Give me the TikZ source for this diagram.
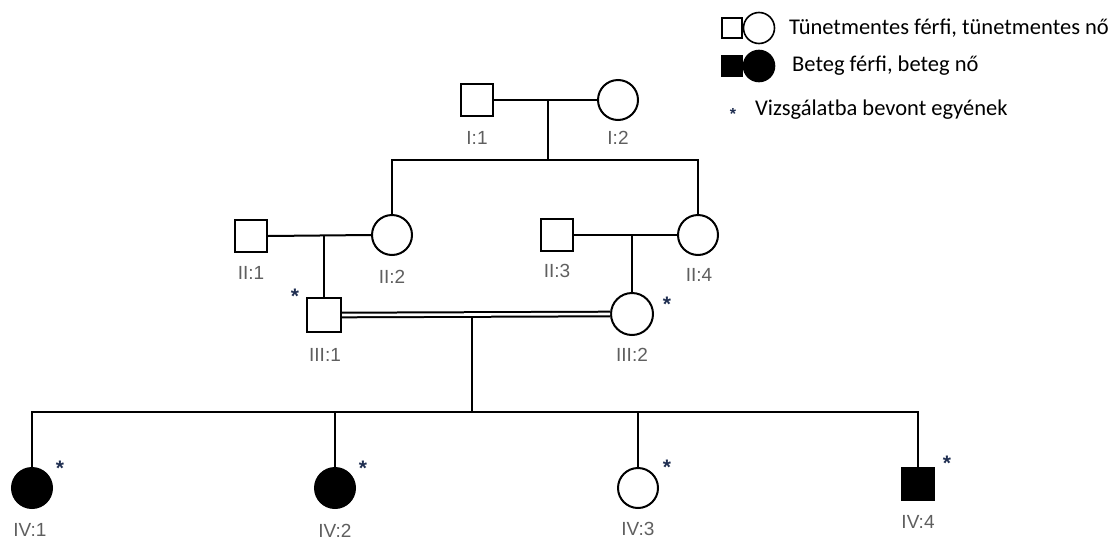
\documentclass[tikz,border=0pt]{standalone}
\usepackage{fontspec}
\setmainfont{Liberation Sans}
\newfontfamily\legendfont{Carlito}
\definecolor{astcol}{RGB}{30,45,80}
\definecolor{labcol}{RGB}{95,95,95}
\begin{document}
\begin{tikzpicture}[x=1pt,y=-1pt,
 lw/.style={line width=2pt},
 male/.style={draw, rectangle, minimum size=32pt, inner sep=0pt, line width=2pt},
 female/.style={draw, circle, minimum size=40pt, inner sep=0pt, line width=2pt},
 aff/.style={fill=black},
 lab/.style={text=labcol, inner sep=0pt, font=\fontsize{19}{19}\selectfont},
 ast/.style={text=astcol, inner sep=0pt, font=\bfseries\fontsize{21}{21}\selectfont},
 legsq/.style={draw, rectangle, minimum size=20pt, inner sep=0pt, line width=1.6pt},
 legci/.style={draw, circle, minimum size=31pt, inner sep=0pt, line width=1.6pt},
 leg/.style={font=\legendfont\fontsize{22.5}{22.5}\selectfont, anchor=west, inner sep=0pt}]
\useasboundingbox[fill=white] (0,0) rectangle (1118,541);

% generation I
\node[male] (I1) at (477,100) {};
\node[female] (I2) at (618,100) {};
% generation II
\node[male] (II1) at (251,236) {};
\node[female] (II2) at (392,235) {};
\node[male] (II3) at (557,235) {};
\node[female] (II4) at (698,235) {};
% generation III
\node[male, minimum size=34pt] (III1) at (324,315) {};
\node[female, minimum size=42pt] (III2) at (632,314) {};
% generation IV
\node[female, aff] (IV1) at (32,488) {};
\node[female, aff] (IV2) at (335,488) {};
\node[female] (IV3) at (638,488) {};
\node[male, aff] (IV4) at (918,484) {};

% connectors
\coordinate (m1) at (548,100);
\coordinate (s1) at (548,160);
\draw[lw] (I1.east) -- (I2.west);
\draw[lw] (m1) -- (s1);
\draw[lw] (II2.north) |- (s1) -| (II4.north);

\coordinate (m2) at (324,235);
\draw[lw] (II1.east) -- (II2.west);
\draw[lw] (m2) -- (III1.north);

\coordinate (m3) at (632,235);
\draw[lw] (II3.east) -- (II4.west);
\draw[lw] (m3) -- (III2.north);

\draw[line width=2pt, double, double distance=2.6pt] (III1.east) -- (III2.west);
\coordinate (m4) at (472,316);
\coordinate (s4) at (472,412);
\draw[lw] (m4) -- (s4);
\draw[lw] (IV1.north) |- (s4) -| (IV4.north);
\draw[lw] (IV2.north) -- (IV2.north |- s4);
\draw[lw] (IV3.north) -- (IV3.north |- s4);

% labels
\node[lab] (lI1) at (477,138) {I:1};
\node[lab] (lI2) at (618,138) {I:2};
\node[lab] (lII1) at (251,273) {II:1};
\node[lab] (lII2) at (392,277) {II:2};
\node[lab] (lII3) at (557,271) {II:3};
\node[lab] (lII4) at (699,275) {II:4};
\node[lab] (lIII1) at (325,355) {III:1};
\node[lab] (lIII2) at (632,355) {III:2};
\node[lab] (lIV1) at (30,530) {IV:1};
\node[lab] (lIV2) at (335,531) {IV:2};
\node[lab] (lIV3) at (638,529) {IV:3};
\node[lab] (lIV4) at (918,522) {IV:4};

% asterisks
\node[ast] (aIII1) at (295,296) {*};
\node[ast] (aIII2) at (667,304) {*};
\node[ast] (aIV1) at (60,468) {*};
\node[ast] (aIV2) at (363,468) {*};
\node[ast] (aIV3) at (667,467) {*};
\node[ast] (aIV4) at (947,463) {*};

% legend
\node[legsq] (L1) at (732,28) {};
\node[legci] (L2) at (759,28) {};
\node[legsq, fill=black] (L3) at (732,66) {};
\node[legci, fill=black] (L4) at (759,66) {};
\node[ast, font=\bfseries\fontsize{16}{16}\selectfont] (L5) at (733,114) {*};
\node[leg] (T1) at (789,28) {Tünetmentes férfi, tünetmentes nő};
\node[leg] (T2) at (792,66) {Beteg férfi, beteg nő};
\node[leg] (T3) at (755,110) {Vizsgálatba bevont egyének};
\end{tikzpicture}
\end{document}
